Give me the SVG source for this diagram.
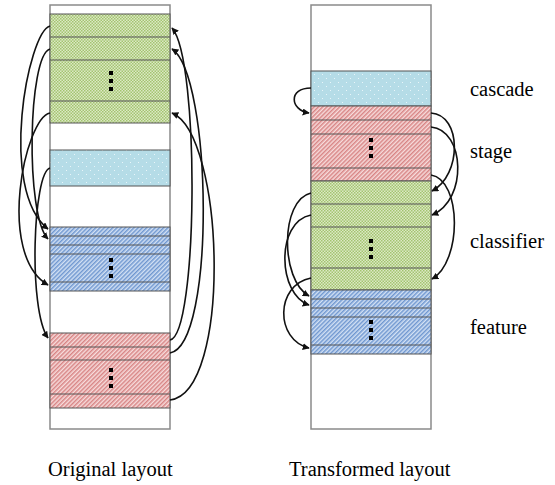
<svg xmlns="http://www.w3.org/2000/svg" width="555" height="485" viewBox="0 0 555 485">
<defs>
<pattern id="pGreen" width="3" height="3" patternUnits="userSpaceOnUse">
<rect width="3" height="3" fill="#dce9c5"/>
<rect x="0" y="0" width="1.5" height="1.5" fill="#a3c46f"/>
<rect x="1.5" y="1.5" width="1.5" height="1.5" fill="#a3c46f"/>
</pattern>
<pattern id="pCyan" width="8" height="8" patternUnits="userSpaceOnUse">
<rect width="8" height="8" fill="#b5dce7"/>
<rect x="2" y="2" width="1" height="1" fill="#e8f5f9"/>
<rect x="6" y="6" width="1" height="1" fill="#e8f5f9"/>
</pattern>
<pattern id="pBlue" width="3" height="3" patternUnits="userSpaceOnUse" patternTransform="rotate(45)">
<rect width="3" height="3" fill="#d3e1f4"/>
<rect width="1.5" height="3" fill="#6f97d0"/>
</pattern>
<pattern id="pRed" width="3" height="3" patternUnits="userSpaceOnUse" patternTransform="rotate(45)">
<rect width="3" height="3" fill="#f7dcdc"/>
<rect width="1.5" height="3" fill="#d88585"/>
</pattern>
<marker id="ah" viewBox="0 0 10 10" refX="9" refY="5" markerWidth="7" markerHeight="7" orient="auto" markerUnits="userSpaceOnUse">
<path d="M0,0 L10,5 L0,10 Z" fill="#111"/>
</marker>
</defs>
<style>
.col{fill:#fff;stroke:#8a8a8a;stroke-width:1.5}
.blk{stroke:#555;stroke-width:1}
.div{stroke:#555;stroke-width:1}
.dot{fill:#000}
.conn path{fill:none;stroke:#111;stroke-width:1.6;marker-end:url(#ah)}
text{font-family:"Liberation Serif","Times New Roman",serif;font-size:20.5px;fill:#000}
</style>

<g id="original-layout">
<rect class="col" x="50" y="5" width="120" height="424"/>
<g id="orig-classifier">
<rect class="blk" x="50" y="14" width="120" height="109" fill="url(#pGreen)"/>
<line class="div" x1="50" y1="37" x2="170" y2="37"/>
<line class="div" x1="50" y1="60" x2="170" y2="60"/>
<line class="div" x1="50" y1="101" x2="170" y2="101"/>
<rect class="dot" x="109" y="71" width="4" height="4"/>
<rect class="dot" x="109" y="79" width="4" height="4"/>
<rect class="dot" x="109" y="87" width="4" height="4"/>
</g>
<g id="orig-cascade">
<rect class="blk" x="50" y="150" width="120" height="36" fill="url(#pCyan)"/>
</g>
<g id="orig-feature">
<rect class="blk" x="50" y="227" width="120" height="64" fill="url(#pBlue)"/>
<line class="div" x1="50" y1="236" x2="170" y2="236"/>
<line class="div" x1="50" y1="245" x2="170" y2="245"/>
<line class="div" x1="50" y1="254" x2="170" y2="254"/>
<line class="div" x1="50" y1="282" x2="170" y2="282"/>
<rect class="dot" x="109" y="258" width="4" height="4"/>
<rect class="dot" x="109" y="266" width="4" height="4"/>
<rect class="dot" x="109" y="274" width="4" height="4"/>
</g>
<g id="orig-stage">
<rect class="blk" x="50" y="333" width="120" height="75" fill="url(#pRed)"/>
<line class="div" x1="50" y1="347" x2="170" y2="347"/>
<line class="div" x1="50" y1="360" x2="170" y2="360"/>
<line class="div" x1="50" y1="394" x2="170" y2="394"/>
<rect class="dot" x="109" y="368" width="4" height="4"/>
<rect class="dot" x="109" y="376" width="4" height="4"/>
<rect class="dot" x="109" y="384" width="4" height="4"/>
</g>
</g>

<g id="transformed-layout">
<rect class="col" x="311" y="5" width="120" height="424"/>
<g id="trans-cascade">
<rect class="blk" x="311" y="71" width="120" height="35" fill="url(#pCyan)"/>
</g>
<g id="trans-stage">
<rect class="blk" x="311" y="106" width="120" height="75" fill="url(#pRed)"/>
<line class="div" x1="311" y1="120" x2="431" y2="120"/>
<line class="div" x1="311" y1="134" x2="431" y2="134"/>
<line class="div" x1="311" y1="168" x2="431" y2="168"/>
<rect class="dot" x="369" y="138" width="4" height="4"/>
<rect class="dot" x="369" y="146" width="4" height="4"/>
<rect class="dot" x="369" y="154" width="4" height="4"/>
</g>
<g id="trans-classifier">
<rect class="blk" x="311" y="181" width="120" height="109" fill="url(#pGreen)"/>
<line class="div" x1="311" y1="204" x2="431" y2="204"/>
<line class="div" x1="311" y1="227" x2="431" y2="227"/>
<line class="div" x1="311" y1="268" x2="431" y2="268"/>
<rect class="dot" x="369" y="239" width="4" height="4"/>
<rect class="dot" x="369" y="247" width="4" height="4"/>
<rect class="dot" x="369" y="255" width="4" height="4"/>
</g>
<g id="trans-feature">
<rect class="blk" x="311" y="290" width="120" height="64" fill="url(#pBlue)"/>
<line class="div" x1="311" y1="299" x2="431" y2="299"/>
<line class="div" x1="311" y1="308" x2="431" y2="308"/>
<line class="div" x1="311" y1="317" x2="431" y2="317"/>
<line class="div" x1="311" y1="345" x2="431" y2="345"/>
<rect class="dot" x="369" y="320" width="4" height="4"/>
<rect class="dot" x="369" y="328" width="4" height="4"/>
<rect class="dot" x="369" y="336" width="4" height="4"/>
</g>
</g>

<g id="connectors" class="conn">
<path d="M50,26 C28,32 -2,190 48,229"/>
<path d="M50,49 C28,55 25,215 48,239"/>
<path d="M50,113 C25,118 -4,255 48,285"/>
<path d="M50,168 C33,172 28,310 48,338"/>
<path d="M170,340 C198,335 200,60 172,28"/>
<path d="M170,353 C216,345 212,75 172,49"/>
<path d="M170,400 C232,393 225,135 172,113"/>
<path d="M311,88 C288,88 290,110 309,113"/>
<path d="M431,113 C462,115 462,175 432,191"/>
<path d="M431,127 C465,130 468,200 432,215"/>
<path d="M431,175 C462,180 462,262 432,279"/>
<path d="M311,193 C280,200 280,280 309,296"/>
<path d="M311,215 C275,222 278,295 309,305"/>
<path d="M311,278 C275,285 275,340 309,348"/>
</g>

<g id="labels">
<text x="470" y="96">cascade</text>
<text x="470" y="158">stage</text>
<text x="470" y="248">classifier</text>
<text x="470" y="334">feature</text>
<text x="48" y="476">Original layout</text>
<text x="289" y="476">Transformed layout</text>
</g>
</svg>
